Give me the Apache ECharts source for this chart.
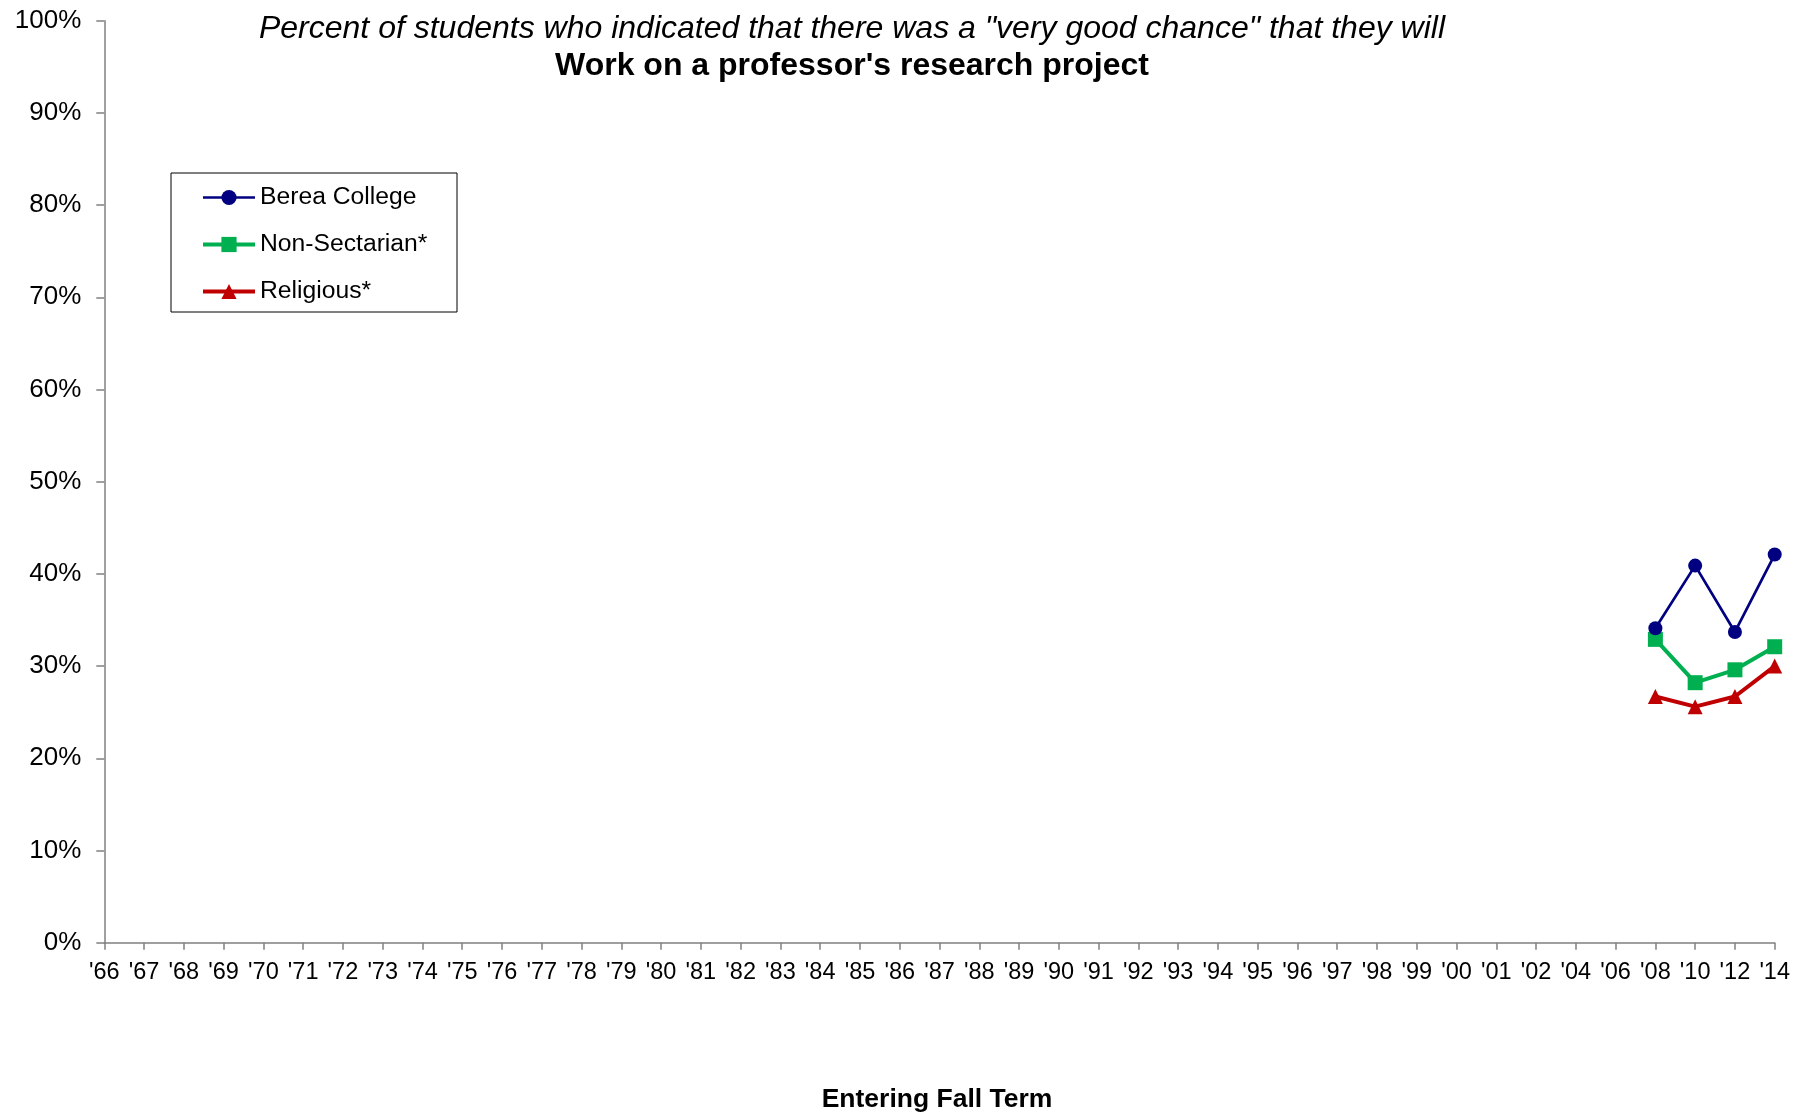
<!DOCTYPE html>
<html>
<head>
<meta charset="utf-8">
<script src="https://cdn.jsdelivr.net/npm/echarts@6/dist/echarts.min.js"></script>
<style>
html,body{margin:0;padding:0;background:#fff;}
#chart{width:1812px;height:1113px;}
</style>
</head>
<body>
<div id="chart"></div>
<script>
const years = ["'66","'67","'68","'69","'70","'71","'72","'73","'74","'75","'76","'77","'78","'79","'80","'81","'82","'83","'84","'85","'86","'87","'88","'89","'90","'91","'92","'93","'94","'95","'96","'97","'98","'99","'00","'01","'02","'04","'06","'08","'10","'12","'14"];
const dataYears = ["'08","'10","'12","'14"];
const berea = [34.1, 40.9, 33.7, 42.1];
const nonSectarian = [32.9, 28.2, 29.6, 32.1];
const religious = [26.7, 25.6, 26.7, 30.0];

const FONT = '"Liberation Sans", Arial, sans-serif';
function pairs(vals){ return dataYears.map((y,i)=>[y, vals[i]]); }

const chart = echarts.init(document.getElementById('chart'), null, {renderer:'canvas'});
chart.setOption({
  backgroundColor:'#ffffff',
  animation:false,
  textStyle:{fontFamily:FONT},
  grid:{left:104.3, right:37.3, top:20.7, bottom:170.3, containLabel:false},
  xAxis:{
    type:'category', data:years, boundaryGap:false,
    axisLine:{lineStyle:{color:'#808080', width:1.5}},
    axisTick:{show:true, interval:0, length:7, lineStyle:{color:'#808080', width:1.5}},
    axisLabel:{interval:0, margin:18, color:'#000', fontSize:23.5, fontFamily:FONT},
    splitLine:{show:false}
  },
  yAxis:{
    type:'value', min:0, max:100, interval:10,
    axisLine:{show:true, lineStyle:{color:'#808080', width:1.5}},
    axisTick:{show:true, length:8, lineStyle:{color:'#808080', width:1.5}},
    axisLabel:{formatter:'{value}%', margin:23, color:'#000', fontSize:26, fontFamily:FONT},
    splitLine:{show:false}
  },
  legend:{
    orient:'vertical', left:196, top:180,
    itemWidth:52, itemHeight:19, itemGap:22,
    textStyle:{fontSize:24.7, color:'#000', fontFamily:FONT, lineHeight:24},
    data:[
      {name:'Berea College', lineStyle:{width:2.7}},
      {name:'Non-Sectarian*', lineStyle:{width:4}},
      {name:'Religious*', lineStyle:{width:4}}
    ]
  },
  graphic:[
    {type:'rect', shape:{x:171, y:173, width:286, height:139}, style:{fill:'none', stroke:'#000', lineWidth:1}, z:-1},
    {type:'text', style:{x:852, y:29, text:'Percent of students who indicated that there was a "very good chance" that they will', textAlign:'center', textVerticalAlign:'middle', font:'italic 32px "Liberation Sans", Arial, sans-serif', fill:'#000'}},
    {type:'text', style:{x:852, y:66, text:"Work on a professor's research project", textAlign:'center', textVerticalAlign:'middle', font:'bold 32px "Liberation Sans", Arial, sans-serif', fill:'#000'}},
    {type:'text', style:{x:937, y:1100, text:'Entering Fall Term', textAlign:'center', textVerticalAlign:'middle', font:'bold 26.5px "Liberation Sans", Arial, sans-serif', fill:'#000'}}
  ],
  series:[
    {name:'Berea College', type:'line', data:pairs(berea), symbol:'circle', symbolSize:14,
     lineStyle:{color:'#000080', width:2.7}, itemStyle:{color:'#000080'}, z:3},
    {name:'Non-Sectarian*', type:'line', data:pairs(nonSectarian), symbol:'rect', symbolSize:15,
     lineStyle:{color:'#00B050', width:4}, itemStyle:{color:'#00B050'}, z:2},
    {name:'Religious*', type:'line', data:pairs(religious), symbol:'triangle', symbolSize:15,
     lineStyle:{color:'#C00000', width:4}, itemStyle:{color:'#C00000'}, z:1}
  ]
});
</script>
</body>
</html>
